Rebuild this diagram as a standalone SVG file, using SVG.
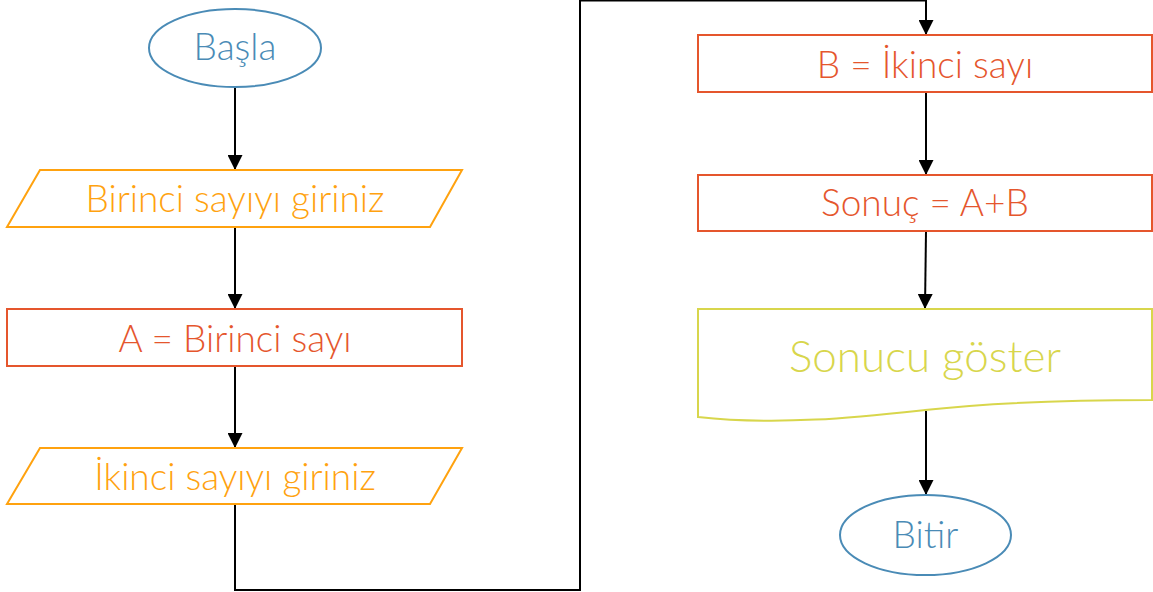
<svg xmlns="http://www.w3.org/2000/svg" width="1153" height="592" viewBox="0 0 1153 592">
<style>
.t{font-family:Lato,"Open Sans","Liberation Sans",sans-serif;font-weight:300;text-anchor:middle;font-size:37px}
.term{fill:#fff;stroke:#4A8BB6;stroke-width:2}
.term-t{fill:#4A8BB6}
.io{fill:#fff;stroke:#FFA20F;stroke-width:2}
.io-t{fill:#FFA20F}
.proc{fill:#fff;stroke:#E5562D;stroke-width:2}
.proc-t{fill:#E5562D}
.doc{fill:#fff;stroke:#D8D64C;stroke-width:2}
.doc-t{fill:#D8D64C}
.edge{fill:none;stroke:#000;stroke-width:2}
</style>
<defs>
<marker id="arr" markerUnits="userSpaceOnUse" markerWidth="15" markerHeight="15" refX="15" refY="7.5" orient="auto">
<path d="M0,0 L15,7.5 L0,15 z" fill="#000"/>
</marker>
</defs>
<g id="connectors">
<line class="edge" x1="235" y1="88" x2="235" y2="170" marker-end="url(#arr)"/>
<line class="edge" x1="235" y1="227" x2="235" y2="309" marker-end="url(#arr)"/>
<line class="edge" x1="235" y1="366" x2="235" y2="448" marker-end="url(#arr)"/>
<polyline class="edge" points="235,504 235,590 580,590 580,0.5 926,0.5 926,35" marker-end="url(#arr)"/>
<line class="edge" x1="926" y1="92" x2="926" y2="175" marker-end="url(#arr)"/>
<line class="edge" x1="926" y1="231" x2="925" y2="309" marker-end="url(#arr)"/>
<line class="edge" x1="926" y1="411" x2="926" y2="495" marker-end="url(#arr)"/>
</g>
<g id="start">
<ellipse class="term" cx="235" cy="48" rx="86" ry="39"/>
<text class="t term-t" x="235" y="60">Başla</text>
</g>
<g id="input1">
<polygon class="io" points="40,170 462,170 430,227 7,227"/>
<text class="t io-t" x="235" y="212">Birinci sayıyı giriniz</text>
</g>
<g id="assignA">
<rect class="proc" x="7" y="309" width="455" height="57"/>
<text class="t proc-t" x="235" y="352">A = Birinci sayı</text>
</g>
<g id="input2">
<polygon class="io" points="40,448 462,448 430,504 7,504"/>
<text class="t io-t" x="235" y="490">İkinci sayıyı giriniz</text>
</g>
<g id="assignB">
<rect class="proc" x="698" y="35" width="454" height="57"/>
<text class="t proc-t" x="925" y="78">B = İkinci sayı</text>
</g>
<g id="sum">
<rect class="proc" x="698" y="175" width="454" height="56"/>
<text class="t proc-t" x="925" y="216">Sonuç = A+B</text>
</g>
<g id="output">
<path class="doc" d="M698,309 L1152,309 L1152,400 C1080,400 990,403 925,410 C860,417 780,426 698,417 Z"/>
<text class="t doc-t" x="925" y="372" style="font-size:44px">Sonucu göster</text>
</g>
<g id="end">
<ellipse class="term" cx="925.5" cy="535" rx="85.5" ry="40"/>
<text class="t term-t" x="925.5" y="548">Bitir</text>
</g>
</svg>
